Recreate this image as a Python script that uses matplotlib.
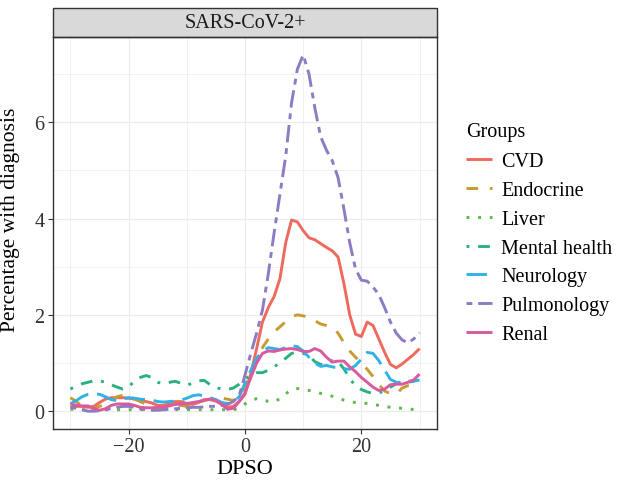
import numpy as np
import matplotlib
matplotlib.use("Agg")
import matplotlib.pyplot as plt
from matplotlib.patches import Rectangle

# ---------------- data ----------------
dpso = list(range(-30, 31))

cvd = [0.08, 0.10, 0.10, 0.08, 0.10, 0.18, 0.25, 0.28, 0.28, 0.28,
       0.27, 0.25, 0.22, 0.20, 0.17, 0.12, 0.12, 0.16, 0.20, 0.20,
       0.16, 0.14, 0.18, 0.24, 0.24, 0.21, 0.15, 0.08, 0.10, 0.20,
       0.35, 0.78, 1.30, 1.85, 2.15, 2.38, 2.75, 3.50, 3.97, 3.93,
       3.75, 3.60, 3.56, 3.48, 3.40, 3.33, 3.20, 2.65, 2.00, 1.60,
       1.55, 1.85, 1.78, 1.50, 1.22, 0.97, 0.90, 0.98, 1.08, 1.18, 1.30]

endocrine = [0.28, 0.20, 0.10, 0.06, 0.06, 0.10, 0.15, 0.22, 0.30, 0.33,
             0.30, 0.25, 0.20, 0.15, 0.10, 0.08, 0.08, 0.10, 0.12, 0.12,
             0.10, 0.12, 0.18, 0.22, 0.25, 0.25, 0.27, 0.25, 0.22, 0.30,
             0.50, 0.80, 1.10, 1.32, 1.50, 1.65, 1.75, 1.86, 1.96, 2.00,
             1.98, 1.95, 1.88, 1.81, 1.78, 1.74, 1.62, 1.42, 1.25, 1.12,
             1.00, 0.87, 0.72, 0.55, 0.42, 0.36, 0.35, 0.48, 0.53, 0.52, 0.55]

liver = [0.04, 0.03, 0.03, 0.03, 0.03, 0.03, 0.03, 0.03, 0.03, 0.03,
         0.03, 0.03, 0.03, 0.03, 0.03, 0.03, 0.03, 0.03, 0.03, 0.03,
         0.03, 0.03, 0.03, 0.03, 0.03, 0.03, 0.03, 0.03, 0.03, 0.06,
         0.15, 0.22, 0.26, 0.25, 0.20, 0.19, 0.26, 0.36, 0.45, 0.47,
         0.45, 0.43, 0.41, 0.37, 0.34, 0.31, 0.27, 0.23, 0.20, 0.18,
         0.17, 0.16, 0.14, 0.12, 0.10, 0.08, 0.07, 0.06, 0.06, 0.03, 0.00]

mental = [0.46, 0.52, 0.57, 0.60, 0.63, 0.63, 0.60, 0.55, 0.50, 0.46,
          0.50, 0.63, 0.70, 0.74, 0.70, 0.60, 0.57, 0.60, 0.62, 0.58,
          0.54, 0.58, 0.63, 0.64, 0.55, 0.49, 0.46, 0.45, 0.48, 0.56,
          0.66, 0.76, 0.80, 0.80, 0.85, 0.92, 1.00, 1.10, 1.20, 1.22,
          1.20, 1.15, 1.03, 0.97, 0.97, 1.05, 1.03, 0.88, 0.68, 0.52,
          0.45, 0.40, 0.37, 0.38, 0.42, 0.50, 0.57, 0.62, 0.62, 0.63, 0.65]

neurology = [0.15, 0.22, 0.30, 0.35, 0.36, 0.35, 0.30, 0.24, 0.22, 0.25,
             0.28, 0.27, 0.25, 0.24, 0.23, 0.20, 0.19, 0.20, 0.21, 0.23,
             0.27, 0.32, 0.34, 0.32, 0.28, 0.24, 0.18, 0.16, 0.18, 0.30,
             0.58, 0.85, 1.10, 1.25, 1.32, 1.30, 1.28, 1.32, 1.36, 1.34,
             1.25, 1.12, 1.00, 0.93, 0.95, 0.92, 0.90, 0.88, 0.87, 0.95,
             1.08, 1.22, 1.20, 1.05, 0.85, 0.66, 0.60, 0.58, 0.60, 0.62, 0.65]

pulmonology = [0.08, 0.06, 0.03, 0.00, 0.00, 0.01, 0.03, 0.06, 0.08, 0.10,
               0.10, 0.08, 0.05, 0.03, 0.02, 0.02, 0.03, 0.04, 0.05, 0.06,
               0.07, 0.08, 0.08, 0.09, 0.10, 0.10, 0.12, 0.14, 0.20, 0.32,
               0.75, 1.20, 1.62, 2.10, 2.85, 3.70, 4.50, 5.30, 6.40, 7.10,
               7.40, 7.00, 6.30, 5.70, 5.42, 5.20, 4.85, 4.20, 3.50, 2.95,
               2.72, 2.70, 2.58, 2.42, 2.15, 1.85, 1.62, 1.48, 1.42, 1.50, 1.63]

renal = [0.15, 0.12, 0.11, 0.11, 0.06, 0.02, 0.05, 0.12, 0.15, 0.15,
         0.15, 0.12, 0.08, 0.07, 0.07, 0.08, 0.08, 0.11, 0.14, 0.15,
         0.16, 0.18, 0.20, 0.23, 0.25, 0.22, 0.14, 0.04, 0.06, 0.20,
         0.38, 0.70, 1.00, 1.20, 1.25, 1.24, 1.27, 1.29, 1.30, 1.28,
         1.24, 1.24, 1.30, 1.25, 1.12, 1.02, 1.04, 1.04, 0.92, 0.82,
         0.70, 0.60, 0.50, 0.43, 0.46, 0.55, 0.56, 0.56, 0.60, 0.65, 0.77]

groups = ["CVD", "Endocrine", "Liver", "Mental health", "Neurology",
          "Pulmonology", "Renal"]
series = [cvd, endocrine, liver, mental, neurology, pulmonology, renal]

x_ticks = [-20, 0, 20]
x_tick_labels = ["\u221220", "0", "20"]
y_ticks = [0, 2, 4, 6]
y_tick_labels = ["0", "2", "4", "6"]

# ---------------- style ----------------
colors = ["#EE6A5E", "#C79B2F", "#5DB84A", "#27B27E", "#2FB3E6",
          "#8D7BC3", "#D85A9F"]
dashes = [None, (4, 4), (1, 3), (1, 3, 4, 3), (7, 3), (2, 2, 6, 2), None]

plt.rcParams['font.family'] = ['Liberation Serif', 'DejaVu Serif']

W, H = 622, 481
fig = plt.figure(figsize=(W / 100, H / 100), dpi=100)
fig.patch.set_facecolor("white")

L, R, T, B = 53, 437, 38, 430
STRIP_TOP = 9
ax = fig.add_axes([L / W, 1 - B / H, (R - L) / W, (B - T) / H])

lw = 2.1
for name, vals, col, ds in zip(groups, series, colors, dashes):
    line, = ax.plot(dpso, vals, color=col, lw=lw, label=name,
                    solid_capstyle="butt", dash_capstyle="butt")
    if ds is not None:
        line.set_dashes(ds)

ax.set_xlim(-33, 33)
ax.set_ylim(-0.37, 7.77)
ax.set_xticks(x_ticks)
ax.set_xticklabels(x_tick_labels)
ax.set_yticks(y_ticks)
ax.set_yticklabels(y_tick_labels)
ax.set_xticks([-30, -10, 10, 30], minor=True)
ax.set_yticks([1, 3, 5, 7], minor=True)
ax.grid(which="major", color="#EBEBEB", lw=0.9)
ax.grid(which="minor", color="#EBEBEB", lw=0.5)
ax.set_axisbelow(True)
for s in ax.spines.values():
    s.set_color("#333333")
    s.set_linewidth(1.0)
ax.tick_params(which="major", length=3.5, width=0.8, color="#333333",
               labelsize=14.5, labelcolor="#333333", pad=2.5)
ax.tick_params(which="minor", length=0)

ax.set_xlabel("DPSO", fontsize=16, labelpad=2)
ax.set_ylabel("Percentage with diagnosis", fontsize=15.5)
# centre y title on panel + strip, as ggplot does
ycen = (B - (STRIP_TOP + B) / 2) / (B - T)
ax.yaxis.set_label_coords((20 - L) / (R - L), ycen)

# strip
strip_h = (T - STRIP_TOP) / (B - T)
rect = Rectangle((0, 1), 1, strip_h, transform=ax.transAxes,
                 facecolor="#D9D9D9", edgecolor="#333333", lw=1.0,
                 clip_on=False)
ax.add_patch(rect)
ax.text(0.5, 1 + strip_h / 2, "SARS-CoV-2+", transform=ax.transAxes,
        ha="center", va="center", fontsize=14.5, color="#1A1A1A")

# legend
handles, labels = ax.get_legend_handles_labels()
leg = fig.legend(handles, labels, title="Groups", loc="upper left",
                 bbox_to_anchor=(458 / W, 1 - 115 / H), frameon=False,
                 fontsize=14.5, title_fontsize=14.5, handlelength=1.3,
                 handletextpad=0.45, labelspacing=0.48, borderaxespad=0)
leg._legend_box.align = "left"
leg._legend_box.sep = 8

fig.savefig("out.png", dpi=100)
